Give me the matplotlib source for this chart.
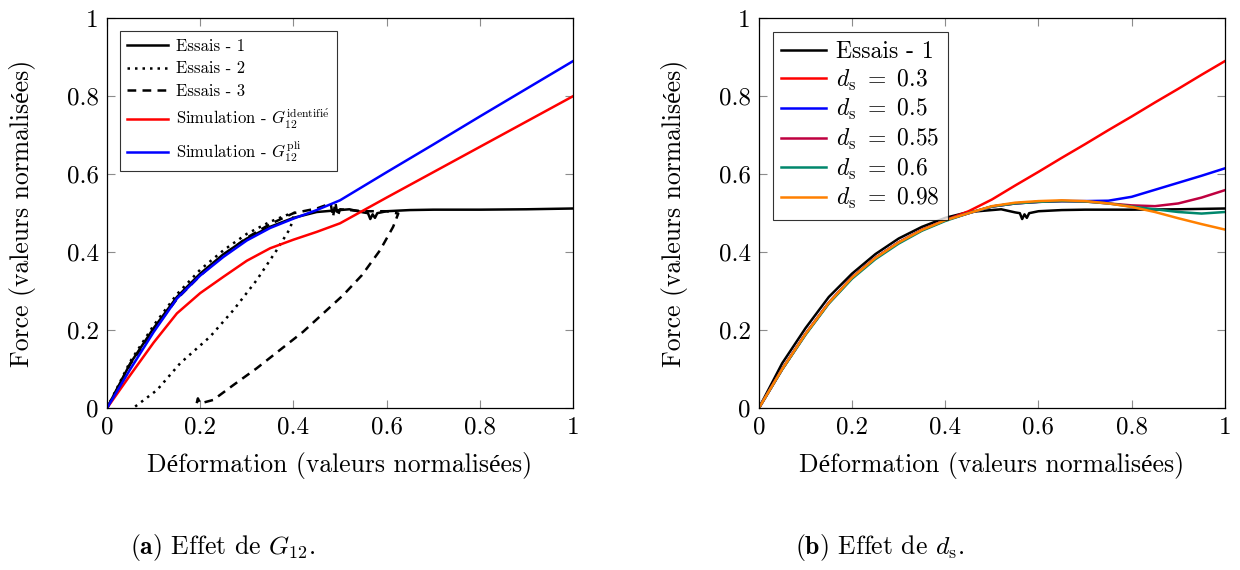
import numpy as np
import matplotlib
matplotlib.use("Agg")
import matplotlib.pyplot as plt

plt.rcParams["font.family"] = ["cmr10", "Liberation Serif", "DejaVu Serif"]
plt.rcParams["mathtext.fontset"] = "cm"
plt.rcParams["axes.formatter.use_mathtext"] = True

# --- left panel data (a) ---
essai1_x = [0, 0.05, 0.1, 0.15, 0.2, 0.25, 0.3, 0.35, 0.4, 0.45, 0.5, 0.52, 0.55, 0.56, 0.565,
            0.57, 0.575, 0.58, 0.6, 0.65, 0.7, 0.8, 0.9, 1.0]
essai1_y = [0, 0.115, 0.205, 0.285, 0.345, 0.395, 0.435, 0.465, 0.488, 0.503, 0.508, 0.51, 0.502,
            0.5, 0.485, 0.497, 0.488, 0.5, 0.505, 0.508, 0.509, 0.509, 0.51, 0.512]

essai2_x = [0, 0.05, 0.1, 0.15, 0.2, 0.25, 0.3, 0.35, 0.385, 0.405, 0.4, 0.393, 0.364, 0.321,
            0.271, 0.221, 0.157, 0.107, 0.056]
essai2_y = [0, 0.12, 0.212, 0.292, 0.355, 0.405, 0.447, 0.478, 0.495, 0.502, 0.49, 0.461,
            0.405, 0.328, 0.251, 0.183, 0.115, 0.046, 0.0]

essai3_x = [0, 0.05, 0.1, 0.15, 0.2, 0.25, 0.3, 0.35, 0.4, 0.45, 0.48, 0.485, 0.49, 0.495,
            0.5, 0.55, 0.6, 0.625, 0.614, 0.586, 0.547, 0.507, 0.464, 0.421, 0.371, 0.321,
            0.271, 0.228, 0.2, 0.195, 0.19]
essai3_y = [0, 0.113, 0.2, 0.28, 0.34, 0.392, 0.437, 0.472, 0.5, 0.512, 0.525, 0.49, 0.528,
            0.492, 0.51, 0.505, 0.505, 0.499, 0.465, 0.405, 0.341, 0.29, 0.243, 0.196, 0.149,
            0.102, 0.059, 0.021, 0.012, 0.025, 0.0]

sim_x = [0, 0.05, 0.1, 0.15, 0.2, 0.25, 0.3, 0.35, 0.4, 0.45, 0.5, 0.6, 0.7, 0.8, 0.9, 1.0]
sim_ident_y = [0, 0.085, 0.168, 0.243, 0.295, 0.337, 0.378, 0.41, 0.432, 0.452, 0.474,
               0.54, 0.605, 0.67, 0.735, 0.8]
sim_pli_y = [0, 0.1, 0.195, 0.281, 0.34, 0.388, 0.43, 0.462, 0.486, 0.508, 0.533,
             0.605, 0.676, 0.748, 0.819, 0.89]

# --- right panel data (b) ---
ds_x = [0, 0.05, 0.1, 0.15, 0.2, 0.25, 0.3, 0.35, 0.4, 0.45, 0.5, 0.55, 0.6, 0.65, 0.7,
        0.75, 0.8, 0.85, 0.9, 0.95, 1.0]
ds_03 = [0, 0.1, 0.19, 0.27, 0.335, 0.385, 0.425, 0.457, 0.482, 0.505, 0.535, 0.571, 0.606,
         0.642, 0.677, 0.713, 0.748, 0.784, 0.819, 0.855, 0.89]
ds_05 = [0, 0.1, 0.19, 0.27, 0.335, 0.385, 0.425, 0.457, 0.482, 0.5, 0.517, 0.525, 0.529,
         0.531, 0.531, 0.532, 0.542, 0.56, 0.578, 0.596, 0.615]
ds_055 = [0, 0.1, 0.19, 0.27, 0.335, 0.385, 0.425, 0.457, 0.482, 0.5, 0.517, 0.525, 0.529,
          0.531, 0.53, 0.525, 0.52, 0.518, 0.525, 0.54, 0.559]
ds_06 = [0, 0.099, 0.188, 0.268, 0.332, 0.382, 0.422, 0.455, 0.48, 0.5, 0.517, 0.525, 0.529,
         0.531, 0.53, 0.525, 0.517, 0.51, 0.503, 0.499, 0.503]
ds_098 = [0, 0.1, 0.19, 0.27, 0.335, 0.385, 0.425, 0.457, 0.482, 0.5, 0.518, 0.527, 0.531,
          0.533, 0.531, 0.525, 0.516, 0.503, 0.487, 0.472, 0.458]
ds_labels = [r"$d_\mathrm{s}\ =\ 0.3$", r"$d_\mathrm{s}\ =\ 0.5$", r"$d_\mathrm{s}\ =\ 0.55$",
             r"$d_\mathrm{s}\ =\ 0.6$", r"$d_\mathrm{s}\ =\ 0.98$"]
ds_colors = ["#ff0000", "#0000ff", "#bf0040", "#00876c", "#ff8000"]

ticks = [0, 0.2, 0.4, 0.6, 0.8, 1]
tick_labels = ["0", "0.2", "0.4", "0.6", "0.8", "1"]

fig = plt.figure(figsize=(12.4, 5.7), dpi=100)
axl = fig.add_axes([0.0863, 0.284, 0.3758, 0.684])
axr = fig.add_axes([0.612, 0.284, 0.3758, 0.684])

lw = 1.8
axl.plot(essai1_x, essai1_y, color="black", lw=lw, label="Essais - 1")
axl.plot(essai2_x, essai2_y, color="black", lw=lw, ls=(0, (1, 2)), label="Essais - 2")
axl.plot(essai3_x, essai3_y, color="black", lw=lw, ls=(0, (3.5, 2.5)), label="Essais - 3")
axl.plot(sim_x, sim_ident_y, color="#ff0000", lw=lw,
         label=r"Simulation - $G_{12}^{\mathrm{identifi\'e}}$")
axl.plot(sim_x, sim_pli_y, color="#0000ff", lw=lw, label=r"Simulation - $G_{12}^{\mathrm{pli}}$")

axr.plot(essai1_x, essai1_y, color="black", lw=lw, label="Essais - 1")
for ys, lab, c in zip([ds_03, ds_05, ds_055, ds_06, ds_098], ds_labels, ds_colors):
    axr.plot(ds_x, ys, color=c, lw=lw, label=lab)

for ax in (axl, axr):
    ax.set_xlim(0, 1)
    ax.set_ylim(0, 1)
    ax.set_xticks(ticks)
    ax.set_xticklabels(tick_labels)
    ax.set_yticks(ticks)
    ax.set_yticklabels(tick_labels)
    ax.tick_params(direction="in", top=True, right=True, length=6, width=0.8,
                   color="0.55", labelsize=18)
    ax.tick_params(axis="x", pad=6)
    ax.tick_params(axis="y", pad=6)
    for s in ax.spines.values():
        s.set_linewidth(0.9)
    ax.set_xlabel("Déformation (valeurs normalisées)", fontsize=18.5, labelpad=10)
    ax.set_ylabel("Force (valeurs normalisées)", fontsize=18.5, labelpad=22)

leg = axl.legend(loc="upper left", fontsize=12, frameon=True, fancybox=False,
                 edgecolor="black", handlelength=2.45, borderaxespad=0.75, labelspacing=0.45,
                 borderpad=0.45, handletextpad=0.5)
leg.get_frame().set_linewidth(0.8)
leg = axr.legend(loc="upper left", fontsize=17, frameon=True, fancybox=False,
                 edgecolor="black", handlelength=1.9, borderaxespad=0.6, labelspacing=0.2,
                 handletextpad=0.4, borderpad=0.35)
leg.get_frame().set_linewidth(0.8)

fig.text(0.105, 0.028, r"$\mathbf{(a)}$ Effet de $G_{12}$.", fontsize=18.5)
fig.text(0.641, 0.028, r"$\mathbf{(b)}$ Effet de $d_\mathrm{s}$.", fontsize=18.5)

fig.savefig("out.png", dpi=100)
